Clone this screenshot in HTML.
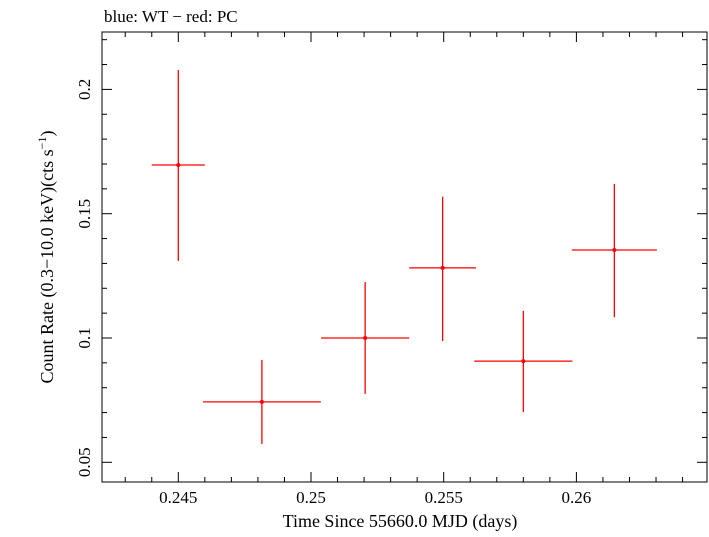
<!DOCTYPE html>
<html><head><meta charset="utf-8"><style>
body{margin:0;background:#fff;}
svg text{font-family:"Liberation Serif",serif;fill:#000;}
</style></head><body>
<svg id="chart" width="709" height="532" xmlns="http://www.w3.org/2000/svg">
<text x="104" y="22" font-size="17">blue: WT − red: PC</text>
<rect x="102" y="32" width="605" height="450" fill="none" stroke="#000" stroke-width="1"/>
<g id="ticks"></g>
<g id="marks"></g>
<text x="400" y="527" font-size="18" text-anchor="middle">Time Since 55660.0 MJD (days)</text>
<text transform="translate(53,257) rotate(-90)" font-size="18" text-anchor="middle">Count Rate (0.3−10.0 keV)(cts s<tspan font-size="12" dy="-7">−1</tspan><tspan dy="7">)</tspan></text>
</svg>
<script>
const xCenters=[0.245,0.24815,0.25204,0.25496,0.2580,0.26143];
const xErrors=[0.001,0.00222,0.00166,0.00126,0.00185,0.0016];
const rates=[0.1696,0.0743,0.1,0.1282,0.0907,0.1354];
const rateHi=[0.2078,0.0912,0.1225,0.1568,0.1109,0.162];
const rateLo=[0.131,0.0574,0.0775,0.0988,0.0702,0.1084];
const xTicks=[0.245,0.25,0.255,0.26];
const yTicks=[0.05,0.1,0.15,0.2];
const xTickLabels=["0.245","0.25","0.255","0.26"];
const yTickLabels=["0.05","0.1","0.15","0.2"];
const X=v=>311+(v-0.25)/0.005*132.7;
const Y=v=>338-(v-0.1)/0.05*124.3;
const NS="http://www.w3.org/2000/svg";
function mk(t,a,p){const e=document.createElementNS(NS,t);for(const k in a)e.setAttribute(k,a[k]);p.appendChild(e);return e;}
const tg=document.getElementById('ticks');
for(let i=0;i<=30;i++){const v=0.242+i*0.001;const x=X(v);if(x<102||x>707)continue;
 const major=Math.abs((v*1000)%5)<1e-6||Math.abs((v*1000)%5-5)<1e-6;const L=major?10:5;
 mk('line',{x1:x,x2:x,y1:482,y2:482-L,stroke:'#000'},tg);mk('line',{x1:x,x2:x,y1:32,y2:32+L,stroke:'#000'},tg);}
for(let i=0;i<=25;i++){const v=0.04+i*0.01;const y=Y(v);if(y<32||y>482)continue;
 const major=Math.round(v*100)%5===0;const L=major?10:5;
 mk('line',{x1:102,x2:102+L,y1:y,y2:y,stroke:'#000'},tg);mk('line',{x1:707,x2:707-L,y1:y,y2:y,stroke:'#000'},tg);}
xTicks.forEach((v,i)=>{const t=mk('text',{x:X(v),y:503,'font-size':17,'text-anchor':'middle'},tg);t.textContent=xTickLabels[i];

});
yTicks.forEach((v,i)=>{const t=mk('text',{transform:`translate(90,${Y(v)}) rotate(-90)`,'font-size':17,'text-anchor':'middle'},tg);t.textContent=yTickLabels[i];

});
const mg=document.getElementById('marks');
rates.forEach((r,i)=>{const g=mk('g',{},mg);


mk('line',{x1:X(xCenters[i]-xErrors[i]),x2:X(xCenters[i]+xErrors[i]),y1:Y(r),y2:Y(r),stroke:'#f00','stroke-width':1.3},g);
mk('line',{x1:X(xCenters[i]),x2:X(xCenters[i]),y1:Y(rateHi[i]),y2:Y(rateLo[i]),stroke:'#f00','stroke-width':1.3},g);
mk('circle',{cx:X(xCenters[i]),cy:Y(r),r:2,fill:'#f00'},g);});
</script>
</body></html>
